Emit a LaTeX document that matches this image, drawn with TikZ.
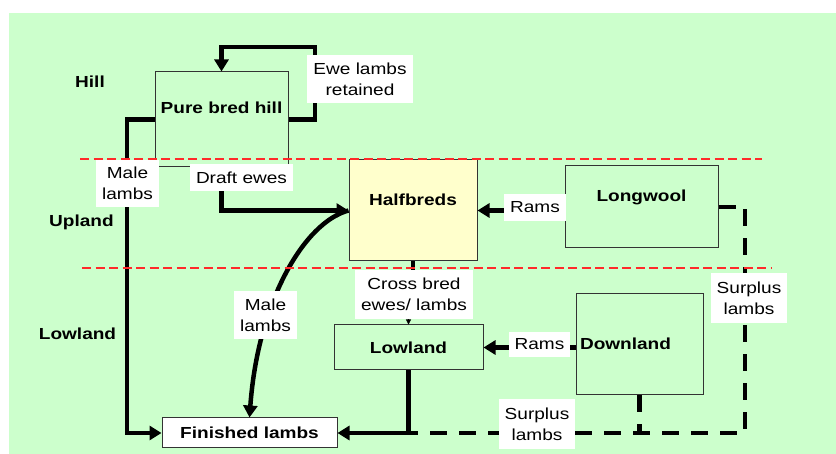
\documentclass[tikz,border=0pt]{standalone}
\usepackage{fontspec}
\setmainfont{Liberation Sans}[FakeStretch=1.19]
\usetikzlibrary{arrows.meta,calc}
\definecolor{bggreen}{HTML}{CCFFCC}
\definecolor{boxyellow}{HTML}{FFFFCC}
\definecolor{redline}{HTML}{FF2A2A}
\tikzset{
 every node/.style={font=\fontsize{16pt}{21pt}\selectfont},
 box/.style={draw=black!80, line width=1pt, fill=bggreen, inner sep=0pt, font=\fontsize{16pt}{21pt}\selectfont\bfseries},
 lab/.style={fill=white, inner sep=0pt, align=center},
 region/.style={font=\fontsize{16pt}{21pt}\selectfont\bfseries, inner sep=0pt},
 thk/.style={line width=4.5pt, black},
 arr/.style={-{Triangle[length=12pt,width=14pt]}},
 smallarr/.style={line width=0.8pt, -{Triangle[length=5pt,width=5pt]}},
 dsh/.style={dash pattern=on 17pt off 12pt},
 zone/.style={redline, line width=1.4pt, dash pattern=on 9pt off 4.5pt},
}
\begin{document}
\begin{tikzpicture}[x=1pt,y=-1pt]
\useasboundingbox (0,0) rectangle (836,454);
\fill[white] (0,0) rectangle (836,454);
\fill[bggreen] (9,13) rectangle (836,454);

% region labels
\node[region] (rhill) at (90,82) {Hill};
\node[region] (rup) at (81.5,222) {Upland};
\node[region] (rlow) at (77.5,334) {Lowland};

% boxes
\node[box, fill=none, minimum width=133pt, text height=41.7pt, text depth=53.3pt] (hill) at (221.5,119.5) {Pure bred hill};
\node[box, fill=boxyellow, minimum width=128pt, text height=45.7pt, text depth=55.3pt] (half) at (413,210.5) {Halfbreds};
\node[box, minimum width=153pt, text height=35.7pt, text depth=46.3pt] (long) at (641.5,207) {Longwool};
\node[box, minimum width=149pt, text height=28.7pt, text depth=16.3pt] (low) at (408.5,347.5) {Lowland};
\node[box, minimum width=127pt, text height=55.7pt, text depth=45.3pt] (down) at (639.5,344.5) {Downland\kern28pt};
\node[box, fill=white, minimum width=175pt, text height=20.7pt, text depth=9.3pt] (fin) at (249.5,433) {Finished lambs};

\coordinate (cr) at (745,433);

% connectors
\draw[thk,arr] (hill.east) -- (315,119.5) -- (315,47) -| (hill.north);
\draw[thk,arr] (hill.west) -- (127,119.5) |- (fin.west);
\draw[thk,arr] (hill.south) |- (half.west);
\draw[thk,arr] (long.west |- half.east) -- (half.east);
\draw[thk,arr] (half.west) .. controls (305,222) and (258,300) .. (fin.north);
\draw[thk] (half.south) -- (half.south |- 0,300);
\draw[thk,dsh] (long.east) -| (cr) -- (low.south |- cr);
\draw[thk,dsh] (down.south) -- (down.south |- cr);
\draw[thk,arr] (low.south) |- (fin.east);
\draw[thk,arr] (down.west |- low.east) -- (low.east);

% zone separators
\draw[zone] (80,159) -- (762,159);
\draw[zone] (82,268) -- (772,268);

% labels
\node[lab, minimum width=106pt, minimum height=48pt] (ewe) at (360,79) {Ewe lambs\\retained};
\node[lab, minimum width=63pt, minimum height=47pt] (male1) at (127.5,183.5) {Male\\lambs};
\node[lab, minimum width=103pt, minimum height=27pt] (draft) at (241.5,177.5) {Draft ewes};
\node[lab, minimum width=62pt, minimum height=27pt] (rams1) at (535,207.5) {Rams};
\node[lab, minimum width=76pt, minimum height=50pt] (surp1) at (749,298) {Surplus\\lambs};
\node[lab, minimum width=118pt, minimum height=49pt] (cross) at (414,294.5) {Cross bred\\ewes/ lambs};
\node[lab, minimum width=63pt, minimum height=48pt] (male2) at (265.5,315) {Male\\lambs};
\node[lab, minimum width=61pt, minimum height=25pt] (rams2) at (539.5,344.5) {Rams};
\node[lab, minimum width=76pt, minimum height=50pt] (surp2) at (537,424) {Surplus\\lambs};

\draw[smallarr] (low.north |- cross.south) -- (low.north);
\end{tikzpicture}
\end{document}
